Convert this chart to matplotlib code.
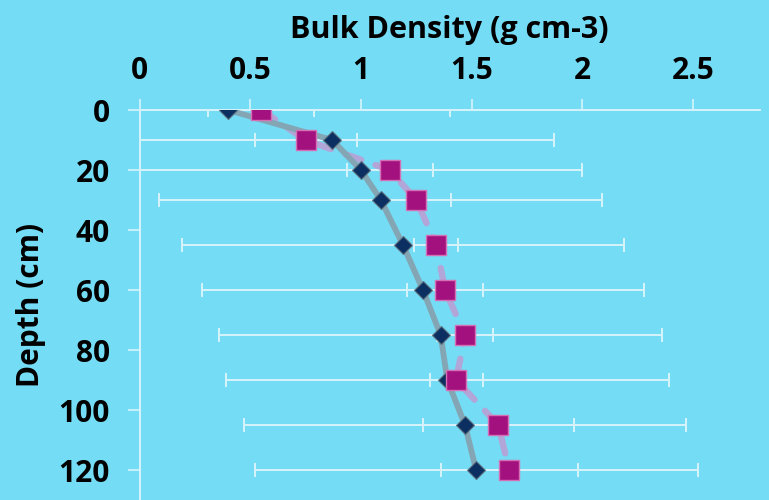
import matplotlib
matplotlib.use("Agg")
import matplotlib.pyplot as plt

# Data
depth = [0, 10, 20, 30, 45, 60, 75, 90, 105, 120]
bd_series1 = [0.40, 0.87, 1.00, 1.09, 1.19, 1.28, 1.36, 1.39, 1.47, 1.52]
err_series1 = [1.0, 1.0, 1.0, 1.0, 1.0, 1.0, 1.0, 1.0, 1.0, 1.0]
bd_series2 = [0.55, 0.75, 1.13, 1.25, 1.34, 1.38, 1.47, 1.43, 1.62, 1.67]
err_series2 = [0.24, 0.23, 0.195, 0.155, 0.10, 0.17, 0.125, 0.12, 0.34, 0.31]
x_ticks = [0, 0.5, 1, 1.5, 2, 2.5]
x_tick_labels = ["0", "0.5", "1", "1.5", "2", "2.5"]
y_ticks = [0, 20, 40, 60, 80, 100, 120]

BG = "#74dcf4"
AX = "#d6f3fb"

plt.rcParams['font.family'] = ['Open Sans', 'DejaVu Sans']
plt.rcParams['font.weight'] = 'bold'

fig = plt.figure(figsize=(7.69, 5.0), dpi=100)
fig.patch.set_facecolor(BG)
ax = fig.add_axes([139.5 / 769, 0.0, 620 / 769, 390 / 500])
ax.set_facecolor(BG)

# error bars
ax.errorbar(bd_series1, depth, xerr=err_series1, fmt='none', ecolor=AX,
            elinewidth=1.4, capsize=4.7, capthick=1.4, zorder=2)
ax.errorbar(bd_series2, depth, xerr=err_series2, fmt='none', ecolor=AX,
            elinewidth=1.4, capsize=4.7, capthick=1.4, zorder=2)

# lines
ax.plot(bd_series2, depth, color="#b2a6d8", lw=4.6, ls=(0, (2.6, 2.4)),
        dash_capstyle='round', solid_capstyle='round', zorder=3)
ax.plot(bd_series1, depth, color="#84a6b4", lw=4.2, solid_capstyle='round',
        zorder=4)

# markers
ax.plot(bd_series1, depth, ls='none', marker='D', ms=9.5, mfc="#0b2f60",
        mec="#5d7180", mew=0.8, zorder=5)
ax.plot(bd_series2, depth, ls='none', marker='s', ms=14, mfc="#a3117f",
        mec="#d66fb4", mew=1.0, zorder=6)

ax.set_xlim(0, 2.8)
ax.set_ylim(130, 0)

ax.xaxis.tick_top()
ax.xaxis.set_label_position('top')
ax.set_xticks(x_ticks)
ax.set_xticklabels(x_tick_labels)
ax.set_yticks(y_ticks)

for s in ['right', 'bottom']:
    ax.spines[s].set_visible(False)
for s in ['top', 'left']:
    ax.spines[s].set_color(AX)
    ax.spines[s].set_linewidth(1.4)

ax.tick_params(axis='x', which='major', direction='out', length=8, width=1.2,
               color=AX, pad=9, labelsize=21.5, labelcolor='black')
ax.tick_params(axis='y', which='major', direction='out', length=8.5, width=1.2,
               color=AX, pad=13, labelsize=21.5, labelcolor='black')

ax.set_xlabel("Bulk Density (g cm-3)", fontsize=22, fontweight='bold',
              labelpad=13)
ax.set_ylabel("Depth (cm)", fontsize=21.5, fontweight='bold', labelpad=9)

fig.savefig("out.png", dpi=100, facecolor=BG)
